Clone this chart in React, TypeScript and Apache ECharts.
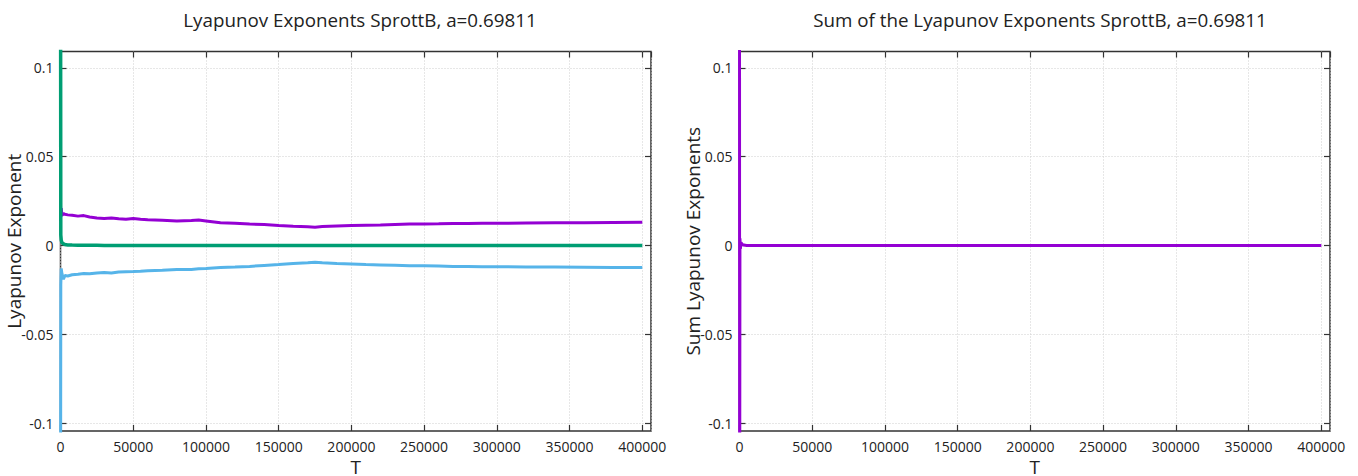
import React, { useEffect, useRef } from "react";
import * as echarts from "echarts";

// Time steps (T) at which the exponents are sampled
const T = [0, 200, 500, 1000, 2000, 3000, 5000, 8000, 12000, 16000, 20000, 25000, 30000, 35000, 40000, 45000, 50000, 55000, 60000, 70000, 80000, 90000, 95000, 100000, 110000, 120000, 130000, 140000, 150000, 160000, 170000, 175000, 180000, 190000, 200000, 210000, 220000, 230000, 240000, 250000, 260000, 270000, 280000, 290000, 300000, 320000, 340000, 360000, 380000, 400000];

// Largest exponent (purple)
const lambda1 = [0.023, 0.016, 0.021, 0.017, 0.018, 0.0175, 0.0172, 0.017, 0.0165, 0.0168, 0.016, 0.0155, 0.0152, 0.0155, 0.015, 0.0148, 0.0152, 0.0147, 0.0145, 0.0142, 0.0138, 0.014, 0.0143, 0.0138, 0.0128, 0.0125, 0.012, 0.0118, 0.0112, 0.0108, 0.0105, 0.0103, 0.0106, 0.011, 0.0112, 0.0114, 0.0115, 0.0118, 0.012, 0.0121, 0.0122, 0.0124, 0.0123, 0.0125, 0.0125, 0.0126, 0.0127, 0.0128, 0.0129, 0.013];

// Middle exponent (green)
const lambda2 = [0.2, 0.006, 0.003, 0.0015, 0.001, 0.0005, 0.0003, 0.0002, 0.0001, 0.0001, 0.0001, 0.0001, 0, 0, 0, 0, 0, 0, 0, 0, 0, 0, 0, 0, 0, 0, 0, 0, 0, 0, 0, 0, 0, 0, 0, 0, 0, 0, 0, 0, 0, 0, 0, 0, 0, 0, 0, 0, 0, 0];

// Smallest exponent (blue)
const lambda3 = [-0.2, -0.022, -0.013, -0.016, -0.019, -0.017, -0.0172, -0.0165, -0.0162, -0.0158, -0.016, -0.0155, -0.0152, -0.0155, -0.015, -0.0148, -0.0147, -0.0145, -0.0142, -0.014, -0.0136, -0.0135, -0.0132, -0.013, -0.0125, -0.0122, -0.0118, -0.0113, -0.0108, -0.0102, -0.0098, -0.0095, -0.0098, -0.0102, -0.0105, -0.0108, -0.011, -0.0112, -0.0114, -0.0115, -0.0116, -0.0118, -0.0119, -0.012, -0.012, -0.0121, -0.0122, -0.0123, -0.0124, -0.0125];

// Sum of the exponents (right panel)
const sumT = [0, 100, 300, 600, 1000, 2000, 3000, 5000, 10000, 50000, 100000, 150000, 200000, 250000, 300000, 350000, 400000];
const sumL = [0.2, -0.2, 0.004, -0.002, 0.0015, 0.0005, 0.0002, 0, 0, 0, 0, 0, 0, 0, 0, 0, 0];

const yTicks = [-0.1, -0.05, 0, 0.05, 0.1];
const X_MAX = 406000;
const Y_MIN = -0.1045;
const Y_MAX = 0.1092;

const FONT = "Open Sans";
const TXT = "#222";

export default function App() {
  const ref = useRef<HTMLDivElement>(null);

  useEffect(() => {
    const chart = echarts.init(ref.current!, null, { renderer: "svg" });

    const grids = [
      { left: 60.5, top: 51.5, width: 590.5, height: 379.5 },
      { left: 739.5, top: 51.5, width: 590.5, height: 379.5 },
    ];

    const tick = { show: true, inside: true, length: 6, lineStyle: { color: "#333", width: 1.2 } };
    const grid = { show: true, lineStyle: { color: "#cfcfcf", type: [1, 2], width: 1 } };

    const xAxes: any[] = [];
    const yAxes: any[] = [];
    const yNames = ["Lyapunov Exponent", "Sum Lyapunov Exponents"];
    grids.forEach((_, g) => {
      xAxes.push({
        type: "value",
        gridIndex: g,
        min: 0,
        max: X_MAX,
        interval: 50000,
        position: "bottom",
        name: "T",
        nameLocation: "middle",
        nameGap: 26,
        nameMoveOverlap: false,
        nameTextStyle: { fontFamily: FONT, fontSize: 19, color: TXT },
        axisLine: { show: false, onZero: false },
        axisTick: tick,
        axisLabel: {
          show: true,
          margin: 8,
          fontFamily: FONT,
          fontSize: 14,
          color: TXT,
          formatter: (v: number) => String(v),
        },
        splitLine: grid,
      });
      xAxes.push({
        type: "value",
        gridIndex: g,
        min: 0,
        max: X_MAX,
        interval: 50000,
        position: "top",
        axisLine: { show: false, onZero: false },
        axisTick: tick,
        axisLabel: { show: false },
        splitLine: { show: false },
      });
      yAxes.push({
        type: "value",
        gridIndex: g,
        min: Y_MIN,
        max: Y_MAX,
        position: "left",
        name: yNames[g],
        nameLocation: "middle",
        nameGap: 37,
        nameMoveOverlap: false,
        nameTextStyle: { fontFamily: FONT, fontSize: 19, color: TXT },
        axisLine: { show: false, onZero: false },
        axisTick: { ...tick, customValues: yTicks },
        axisLabel: {
          show: true,
          margin: 7,
          fontFamily: FONT,
          fontSize: 14,
          color: TXT,
          customValues: yTicks,
          formatter: (v: number) => String(v),
        },
        splitLine: grid,
      });
      yAxes.push({
        type: "value",
        gridIndex: g,
        min: Y_MIN,
        max: Y_MAX,
        position: "right",
        axisLine: { show: false, onZero: false },
        axisTick: { ...tick, customValues: yTicks },
        axisLabel: { show: false, customValues: yTicks },
        splitLine: { show: false },
      });
    });

    const line = (name: string, xs: number[], ys: number[], color: string, width: number, axis: number, z: number) => ({
      type: "line",
      name,
      xAxisIndex: axis * 2,
      yAxisIndex: axis * 2,
      data: xs.map((t, i) => [t, ys[i]]),
      showSymbol: false,
      symbol: "none",
      clip: true,
      z,
      lineStyle: { color, width },
    });

    chart.setOption({
      animation: false,
      backgroundColor: "#ffffff",
      title: [
        {
          text: "Lyapunov Exponents SprottB, a=0.69811",
          left: 355,
          top: 5,
          textAlign: "center",
          textStyle: { fontFamily: FONT, fontSize: 18.8, fontWeight: "normal", color: TXT },
        },
        {
          text: "Sum of the Lyapunov Exponents SprottB, a=0.69811",
          left: 1035,
          top: 5,
          textAlign: "center",
          textStyle: { fontFamily: FONT, fontSize: 18.8, fontWeight: "normal", color: TXT },
        },
      ],
      grid: grids.map((g) => ({
        ...g,
        show: true,
        outerBoundsMode: "none",
        containLabel: false,
        borderColor: "#333",
        borderWidth: 1.5,
        backgroundColor: "transparent",
      })),
      xAxis: xAxes,
      yAxis: yAxes,
      series: [
        line("lambda1", T, lambda1, "#9400d3", 3, 0, 3),
        line("lambda3", T, lambda3, "#56b4e9", 3, 0, 3),
        line("lambda2", T, lambda2, "#009e73", 3.5, 0, 4),
        line("sum", sumT, sumL, "#9400d3", 3, 1, 3),
      ],
    });

    return () => chart.dispose();
  }, []);

  return (
    <div
      ref={ref}
      style={{ position: "absolute", left: 0, top: 0, width: 1358, height: 476, background: "#fff" }}
    />
  );
}
